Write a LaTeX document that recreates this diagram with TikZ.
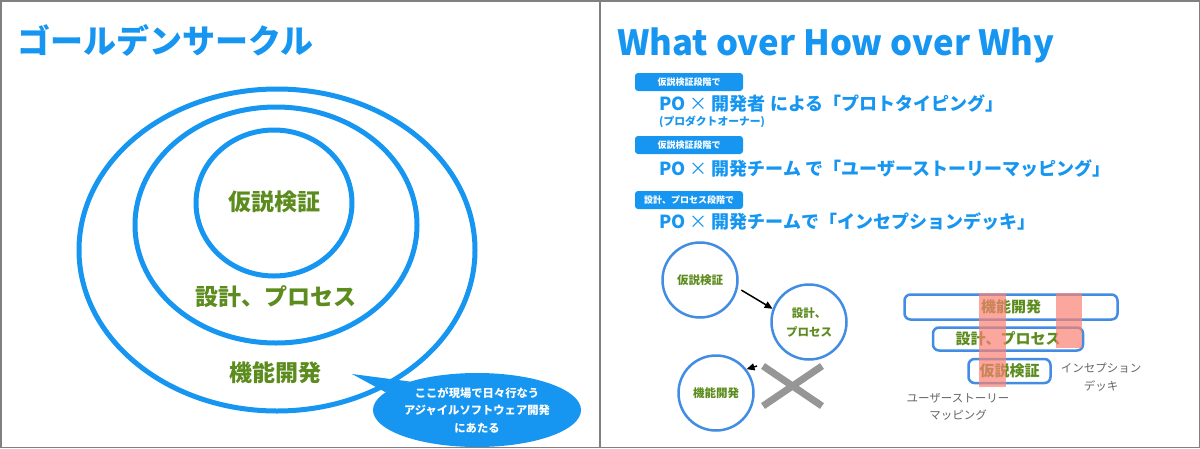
\documentclass[tikz,border=0pt]{standalone}
\usepackage{fontspec}
\setmainfont{Noto Sans CJK JP}
\usetikzlibrary{shapes.geometric, arrows.meta, positioning, calc}
\definecolor{titleblue}{RGB}{22, 150, 240}
\definecolor{softblue}{RGB}{66, 140, 228}
\definecolor{leafgreen}{RGB}{92, 140, 30}
\definecolor{bandred}{RGB}{250, 130, 115}
\definecolor{framegray}{RGB}{128, 128, 128}
\definecolor{labelgray}{RGB}{100, 100, 100}
\definecolor{crossgray}{RGB}{150, 150, 150}
\newcommand{\pxfont}[2]{\fontsize{#1}{#2}\selectfont}

\begin{document}
\begin{tikzpicture}[x=1pt, y=-1pt,
  ring/.style={draw=titleblue, line width=5pt},
  stage/.style={text=leafgreen, font=\pxfont{23}{23}\bfseries},
  tag/.style={fill=titleblue, rounded corners=3pt, minimum width=108pt, minimum height=18pt, inner sep=0pt, text=white, font=\pxfont{9}{9}\bfseries},
  lead/.style={anchor=west, inner sep=0pt, text=titleblue, font=\pxfont{18}{18}\bfseries},
  phase/.style={circle, draw=softblue, line width=2.5pt, minimum size=75pt, inner sep=0pt, align=center, text=leafgreen, font=\pxfont{11.5}{19}\bfseries},
  layer/.style={draw=softblue, line width=2.5pt, rounded corners=6pt, inner sep=0pt, text=leafgreen, font=\pxfont{15}{15}\bfseries},
  band/.style={fill=bandred, fill opacity=0.7},
  note/.style={text=labelgray, align=center, inner sep=0pt, font=\pxfont{11.5}{17.5}},
  arrow/.style={-{Triangle[length=8pt, width=7pt]}, line width=1.5pt}
]
  \useasboundingbox (0,0) rectangle (1200,448);
  \draw[framegray, line width=1.5pt] (0.75,0.75) rectangle (1199.25,447.25);
  \draw[framegray, line width=1.5pt] (600,0) -- (600,448);

  % Golden circle
  \node[anchor=west, inner sep=0pt, text=titleblue, font=\pxfont{33}{33}\bfseries] (gcTitle) at (17,40) {ゴールデンサークル};

  \draw[ring] (277,250) ellipse [x radius=198, y radius=161];
  \draw[ring] (276,225) ellipse [x radius=141, y radius=118];
  \draw[ring] (274,203) ellipse [x radius=78, y radius=73];

  \node[stage] (gcHyp) at (274,202) {仮説検証};
  \node[stage] (gcProc) at (276,297) {設計、プロセス};
  \node[stage] (gcFeat) at (275,373) {機能開発};

  % Callout
  \node[ellipse, fill=titleblue, minimum width=208pt, minimum height=74pt, inner sep=0pt, align=center, text=white, font=\pxfont{11.3}{17.5}\bfseries] (agile) at (477,410) {ここが現場で日々行なう\\アジャイルソフトウェア開発\\にあたる};
  \coordinate (tip) at (352,374);
  \fill[titleblue] (agile.169) -- (tip) -- (agile.157) -- cycle;

  % What over How over Why
  \node[anchor=base west, inner sep=0pt, text=titleblue, font=\pxfont{34.7}{34.7}\bfseries] (wowTitle) at (617,55) {What over How over Why};

  \node[tag] (tagA) at (689,82) {仮説検証段階で};
  \node[lead] (leadA) at (659,103) {PO {\mdseries ×} 開発者 による「プロトタイピング」};
  \node[anchor=west, inner sep=0pt, text=titleblue, font=\pxfont{10.8}{10.8}\bfseries] (poNote) at (659,122) {(プロダクトオーナー)};

  \node[tag] (tagB) at (689,145) {仮説検証段階で};
  \node[lead] (leadB) at (659,169) {PO {\mdseries ×} 開発チーム で「ユーザーストーリーマッピング」};

  \node[tag] (tagC) at (689,200) {設計、プロセス段階で};
  \node[lead] (leadC) at (659,222) {PO {\mdseries ×} 開発チームで「インセプションデッキ」};

  % Order of phases
  \node[phase] (cHyp) at (700,280) {仮説検証};
  \node[phase] (cProc) at (809,322) {設計、\\プロセス};
  \node[phase] (cFeat) at (716,393) {機能開発};

  \draw[arrow, shorten <=4pt] (cHyp.-12) -- (cProc.160);
  \coordinate (stub) at (757,366);
  \draw[arrow] (stub) -- (cFeat.38);

  \draw[crossgray, line width=7pt] (763,366) -- (822,406) (822,366) -- (763,406);

  % Layer stack
  \node[layer, minimum width=213pt, minimum height=25pt] (lFeat) at (1011,307) {機能開発};
  \node[layer, minimum width=150pt, minimum height=23pt] (lProc) at (1008,339) {設計、プロセス};
  \node[layer, minimum width=82pt, minimum height=24pt] (lHyp) at (1009.5,371) {仮説検証};

  \fill[band] (979,293) rectangle (1006,387);
  \fill[band] (1056,293) rectangle (1082,348);

  \node[note] (usm) at (958,407) {ユーザーストーリー\\マッピング};
  \node[note] (deck) at (1101,377) {インセプション\\デッキ};
\end{tikzpicture}
\end{document}
